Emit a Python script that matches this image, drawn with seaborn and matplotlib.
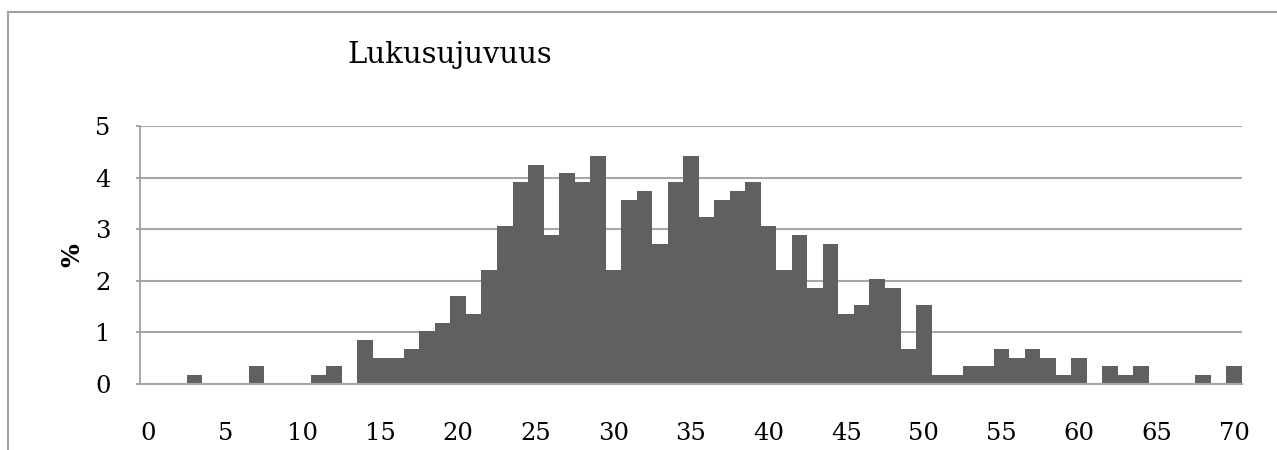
import pandas as pd
import seaborn as sns
import matplotlib.pyplot as plt
from matplotlib.patches import Rectangle

sns.set_style('white')
plt.rcParams['font.family'] = ['DejaVu Serif', 'Liberation Serif']
plt.rcParams['text.color'] = 'black'
plt.rcParams['xtick.labelcolor'] = 'black'
plt.rcParams['ytick.labelcolor'] = 'black'
plt.rcParams['axes.labelcolor'] = 'black'

# score categories 0..70 and share of pupils (%)
scores = list(range(0, 71))
percent = [0, 0, 0, 0.17, 0, 0, 0, 0.34, 0, 0,
           0, 0.17, 0.34, 0, 0.85, 0.51, 0.51, 0.68, 1.02, 1.19,
           1.70, 1.36, 2.21, 3.06, 3.91, 4.25, 2.89, 4.08, 3.91, 4.42,
           2.21, 3.57, 3.74, 2.72, 3.91, 4.42, 3.23, 3.57, 3.74, 3.91,
           3.06, 2.21, 2.89, 1.87, 2.72, 1.36, 1.53, 2.04, 1.87, 0.68,
           1.53, 0.17, 0.17, 0.34, 0.34, 0.68, 0.51, 0.68, 0.51, 0.17,
           0.51, 0, 0.34, 0.17, 0.34, 0, 0, 0, 0.17, 0,
           0.34]
xticks = list(range(0, 71, 5))

data = pd.DataFrame({'score': scores, 'percent': percent})

fig = plt.figure(figsize=(12.77, 4.5), dpi=100)
ax = fig.add_axes([140/1277, 66/450, 1102/1277, 258/450])

sns.barplot(data=data, x='score', y='percent', color='#606060',
            saturation=1, width=1, linewidth=0, ax=ax, zorder=3)

ax.set_xlim(-0.5, 70.5)
ax.set_ylim(0, 5)
ax.set_yticks(range(0, 6))
ax.set_xticks(xticks)
ax.set_xticklabels([str(t) for t in xticks])
ax.yaxis.grid(True, color='#a6a6a6', linewidth=1.5, zorder=0)
ax.set_axisbelow(True)

for s in ['top', 'right']:
    ax.spines[s].set_visible(False)
ax.spines['left'].set_color('#a0a0a0')
ax.spines['left'].set_linewidth(1.3)
ax.spines['bottom'].set_color('#a6a6a6')
ax.spines['bottom'].set_linewidth(1.5)
ax.spines['bottom'].set_zorder(4)

ax.tick_params(axis='y', left=True, length=3, width=1.3, color='#a0a0a0',
               labelsize=17.5, pad=18)
ax.tick_params(axis='x', bottom=False, labelsize=17.5, pad=24)

ax.set_xlabel('')
ax.set_ylabel('%', fontsize=18, fontweight='bold', labelpad=8)

fig.text(450/1277, 1 - 55/450, 'Lukusujuvuus', fontsize=21,
         ha='center', va='center')

# outer chart frame (cut off at right and bottom)
fig.patches.append(Rectangle((8/1277, -0.2), 1.2, 1.2 - 12/450,
                             transform=fig.transFigure, fill=False,
                             edgecolor='#a0a0a0', linewidth=1.5))

plt.savefig('out.png', dpi=100)
